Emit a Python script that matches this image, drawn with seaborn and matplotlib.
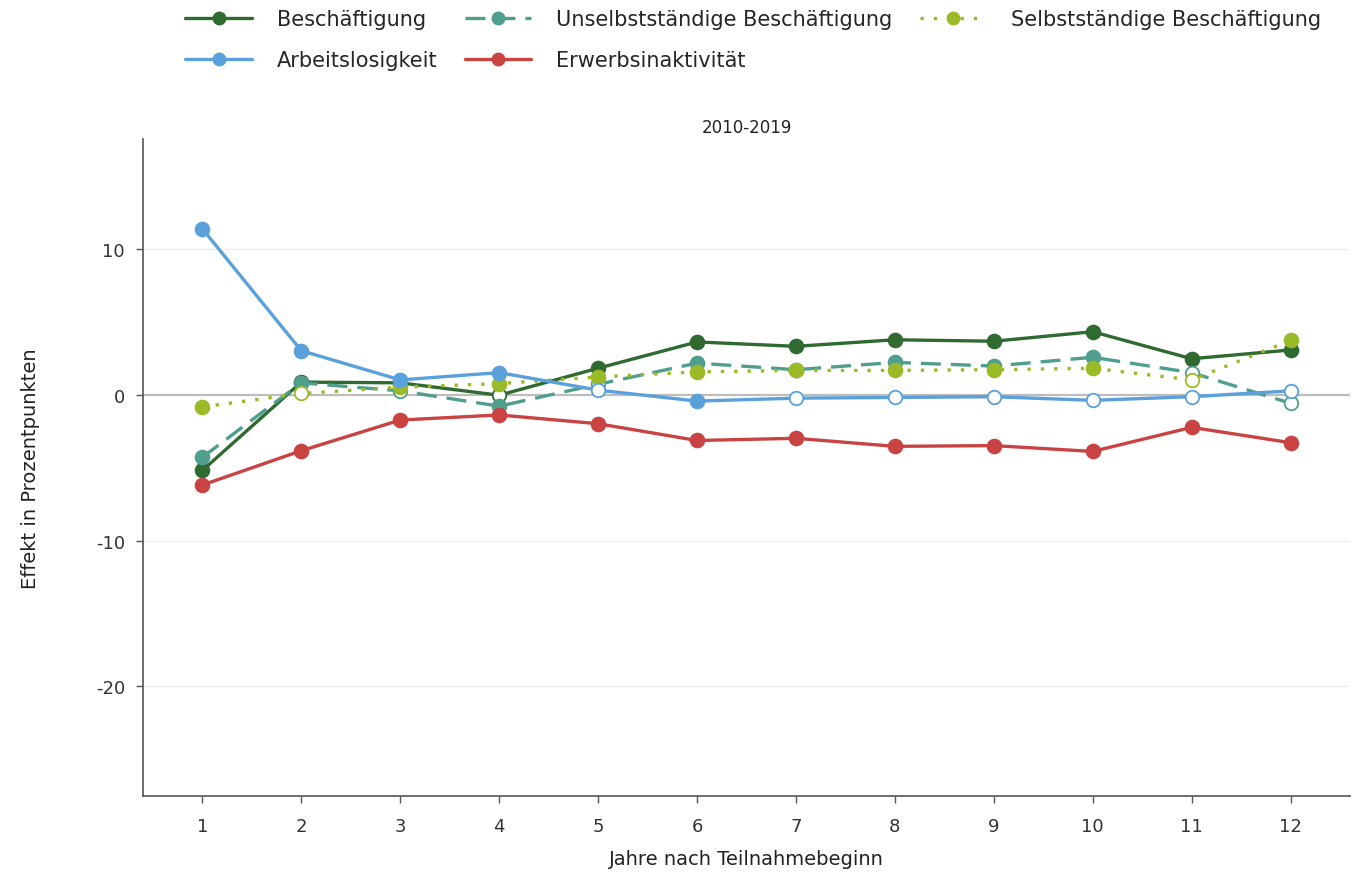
import numpy as np
import pandas as pd
import matplotlib
matplotlib.use("Agg")
import matplotlib.pyplot as plt
from matplotlib.lines import Line2D
import seaborn as sns

years = list(range(1, 13))
series_names = ["Beschäftigung", "Unselbstständige Beschäftigung", "Selbstständige Beschäftigung",
                "Arbeitslosigkeit", "Erwerbsinaktivität"]

beschaeftigung = [-5.2, 0.85, 0.8, -0.05, 1.8, 3.6, 3.3, 3.75, 3.65, 4.3, 2.45, 3.05]
unselbst = [-4.3, 0.8, 0.25, -0.8, 0.7, 2.15, 1.7, 2.2, 1.95, 2.55, 1.5, -0.6]
selbst = [-0.85, 0.07, 0.5, 0.75, 1.2, 1.55, 1.65, 1.65, 1.7, 1.8, 1.0, 3.7]
arbeitslos = [11.35, 3.0, 1.0, 1.5, 0.3, -0.45, -0.25, -0.2, -0.15, -0.4, -0.15, 0.25]
inaktiv = [-6.2, -3.85, -1.75, -1.4, -2.0, -3.15, -3.0, -3.55, -3.5, -3.9, -2.25, -3.3]

# significance (True = filled marker, False = hollow marker)
sig_besch = [1, 1, 1, 0, 1, 1, 1, 1, 1, 1, 1, 1]
sig_unselbst = [1, 1, 0, 1, 0, 1, 1, 1, 1, 1, 0, 0]
sig_selbst = [1, 0, 1, 1, 1, 1, 1, 1, 1, 1, 0, 1]
sig_arbeitslos = [1, 1, 1, 1, 0, 1, 0, 0, 0, 0, 0, 0]
sig_inaktiv = [1] * 12

colors = ["#2F6A30", "#4F9E8E", "#9BBA27", "#5AA0DB", "#C94343"]
linestyles = {"Beschäftigung": "", "Unselbstständige Beschäftigung": (6, 3),
              "Selbstständige Beschäftigung": (1, 3), "Arbeitslosigkeit": "",
              "Erwerbsinaktivität": ""}

values = [beschaeftigung, unselbst, selbst, arbeitslos, inaktiv]
sigs = [sig_besch, sig_unselbst, sig_selbst, sig_arbeitslos, sig_inaktiv]

rows = []
for name, vals, sg in zip(series_names, values, sigs):
    for yr, v, s in zip(years, vals, sg):
        rows.append({"Jahr": yr, "Wert": v, "Serie": name, "sig": bool(s)})
df = pd.DataFrame(rows)

sns.set_theme(style="white")
plt.rcParams["font.family"] = ["DejaVu Sans"]
plt.rcParams["axes.unicode_minus"] = False

fig = plt.figure(figsize=(13.53, 8.79), dpi=100)
ax = fig.add_axes([0.1057, 0.0933, 0.892, 0.7474])

palette = dict(zip(series_names, colors))

for y in [10, -10, -20]:
    ax.axhline(y, color="#EEEEEE", lw=1, zorder=0)
ax.axhline(0, color="#BDBDBD", lw=1.6, zorder=0.5)

sns.lineplot(data=df, x="Jahr", y="Wert", hue="Serie", style="Serie",
             palette=palette, dashes=linestyles, hue_order=series_names,
             style_order=series_names, linewidth=2.4, ax=ax, legend=False, zorder=2)

for i, name in enumerate(series_names):
    sub = df[df["Serie"] == name]
    filled = sub[sub["sig"]]
    hollow = sub[~sub["sig"]]
    ax.scatter(filled["Jahr"], filled["Wert"], s=105, color=colors[i], edgecolor=colors[i],
               linewidth=1, zorder=3 + i * 0.1)
    ax.scatter(hollow["Jahr"], hollow["Wert"], s=95, facecolor="white", edgecolor=colors[i],
               linewidth=1.3, zorder=3 + i * 0.1)

ax.set_xlim(0.4, 12.6)
ax.set_ylim(-27.5, 17.5)
ax.set_xticks(years)
ax.set_yticks([-20, -10, 0, 10])
ax.tick_params(axis="both", which="both", length=5, width=1, color="#555555",
               labelsize=13, labelcolor="#333333", direction="out", bottom=True, left=True)
ax.tick_params(axis="x", pad=10)
ax.tick_params(axis="y", pad=8)
for s in ["top", "right"]:
    ax.spines[s].set_visible(False)
for s in ["left", "bottom"]:
    ax.spines[s].set_color("#555555")
    ax.spines[s].set_linewidth(1.2)

ax.set_xlabel("Jahre nach Teilnahmebeginn", fontsize=14, color="#222222", labelpad=10)
ax.set_ylabel("Effekt in Prozentpunkten", fontsize=14, color="#222222", labelpad=40)
ax.set_title("2010-2019", fontsize=12, color="#222222", pad=5)

dash_map = {"Beschäftigung": "-", "Unselbstständige Beschäftigung": (0, (6, 3)),
            "Selbstständige Beschäftigung": (0, (1, 3)), "Arbeitslosigkeit": "-",
            "Erwerbsinaktivität": "-"}
handles = {n: Line2D([0], [0], color=c, lw=2.4, ls=dash_map[n], marker="o", markersize=9)
           for n, c in zip(series_names, colors)}
order = ["Beschäftigung", "Arbeitslosigkeit", "Unselbstständige Beschäftigung",
         "Erwerbsinaktivität", "Selbstständige Beschäftigung"]
fig.legend([handles[n] for n in order], order, loc="upper left", bbox_to_anchor=(0.123, 1.01),
           ncol=3, frameon=False, fontsize=15, handlelength=3.2, columnspacing=1.3,
           labelspacing=1.0, handletextpad=1.2)

fig.savefig("out.png", dpi=100)
